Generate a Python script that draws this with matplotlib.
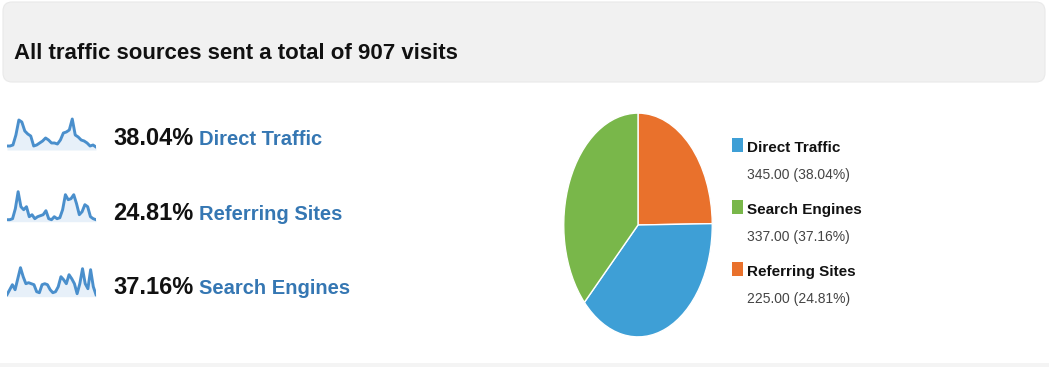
import matplotlib
matplotlib.use("Agg")
import matplotlib.pyplot as plt
from matplotlib.patches import FancyBboxPatch, Rectangle
import numpy as np

# ---------------- data ----------------
title = "All traffic sources sent a total of 907 visits"

source_names = ["Direct Traffic", "Referring Sites", "Search Engines"]
source_shares = [38.04, 24.81, 37.16]

legend_names = ["Direct Traffic", "Search Engines", "Referring Sites"]
legend_visits = [345.00, 337.00, 225.00]
legend_shares = [38.04, 37.16, 24.81]

pie_order = ["Referring Sites", "Direct Traffic", "Search Engines"]

spark_direct = [4, 4, 5, 15, 30, 28, 19, 16, 14, 4, 5, 7, 9, 12, 10, 7, 7, 6,
                10, 17, 18, 20, 31, 15, 13, 10, 9, 7, 4, 5, 3]
spark_referring = [2, 2, 3, 13, 30, 15, 12, 15, 5, 7, 3, 5, 6, 7, 11, 3, 2, 5,
                   3, 4, 12, 27, 22, 23, 27, 18, 7, 10, 17, 15, 5, 3, 2]
spark_search = [2, 7, 12, 7, 18, 29, 20, 13, 14, 13, 12, 5, 4, 12, 13, 12, 7,
                4, 5, 10, 20, 17, 13, 22, 18, 13, 3, 13, 28, 13, 8, 27, 10, 2]

# ---------------- style ----------------
plt.rcParams["font.family"] = ["Liberation Sans", "DejaVu Sans"]

colors = {"Direct Traffic": "#3e9fd6",
          "Search Engines": "#79b74a",
          "Referring Sites": "#e9712c"}
link_blue = "#3577b3"
spark_blue = "#4a8fcc"

W, H = 1049, 367
fig = plt.figure(figsize=(W / 100, H / 100), dpi=100)
fig.patch.set_facecolor("white")

bg = fig.add_axes([0, 0, 1, 1])
bg.set_xlim(0, W)
bg.set_ylim(H, 0)
bg.axis("off")

# header band
bg.add_patch(FancyBboxPatch((3, 2), 1042, 80,
                            boxstyle="round,pad=0,rounding_size=9",
                            fc="#f1f1f1", ec="#e9e9e9", lw=0.8))
bg.text(14, 59, title, fontsize=16, weight="bold", color="#111111",
        va="baseline", ha="left")
# faint bottom line
bg.add_patch(Rectangle((0, 363), W, 4, fc="#f4f4f4", ec="none"))

renderer = fig.canvas.get_renderer()

# left list
row_base_text = [145, 220, 294]
row_base_spark = [150, 221.7, 296.7]
sparks = {"Direct Traffic": spark_direct,
          "Referring Sites": spark_referring,
          "Search Engines": spark_search}
for name, share, yb, ys in zip(source_names, source_shares, row_base_text, row_base_spark):
    t = bg.text(113, yb, f"{share:.2f}%", fontsize=17, weight="bold",
                color="#111111", va="baseline", ha="left")
    ext = t.get_window_extent(renderer)
    bg.annotate(name, xy=(ext.x1 + 6, H - yb), xycoords="figure pixels",
                fontsize=14.5, weight="bold", color=link_blue,
                va="baseline", ha="left")
    vals = sparks[name]
    sax = fig.add_axes([7 / W, 1 - ys / H, 89 / W, 33 / H])
    x = np.arange(len(vals))
    sax.fill_between(x, vals, 0, color="#e7f0f9", lw=0)
    sax.plot(x, vals, color=spark_blue, lw=2.1, solid_joinstyle="round")
    sax.set_xlim(0, len(vals) - 1)
    sax.set_ylim(0, 33)
    sax.axis("off")

# pie
pax = fig.add_axes([563 / W, 1 - 338 / H, 150 / W, 226 / H])
pvals = [legend_visits[legend_names.index(n)] for n in pie_order]
pax.pie(pvals, colors=[colors[n] for n in pie_order], startangle=90,
        counterclock=False, radius=1,
        wedgeprops=dict(edgecolor="white", linewidth=1))
pax.set_aspect("auto")
pax.set_xlim(-1.01, 1.01)
pax.set_ylim(-1.01, 1.01)

# legend
leg_base = [152, 214, 276]
for name, v, s, yb in zip(legend_names, legend_visits, legend_shares, leg_base):
    bg.add_patch(Rectangle((732, yb - 14), 10.5, 13.5, fc=colors[name], ec="none"))
    bg.text(747, yb, name, fontsize=11, weight="bold", color="#111111",
            va="baseline", ha="left")
    bg.text(747, yb + 27, f"{v:.2f} ({s:.2f}%)", fontsize=10,
            color="#444444", va="baseline", ha="left")

fig.savefig("out.png", dpi=100, facecolor="white")
